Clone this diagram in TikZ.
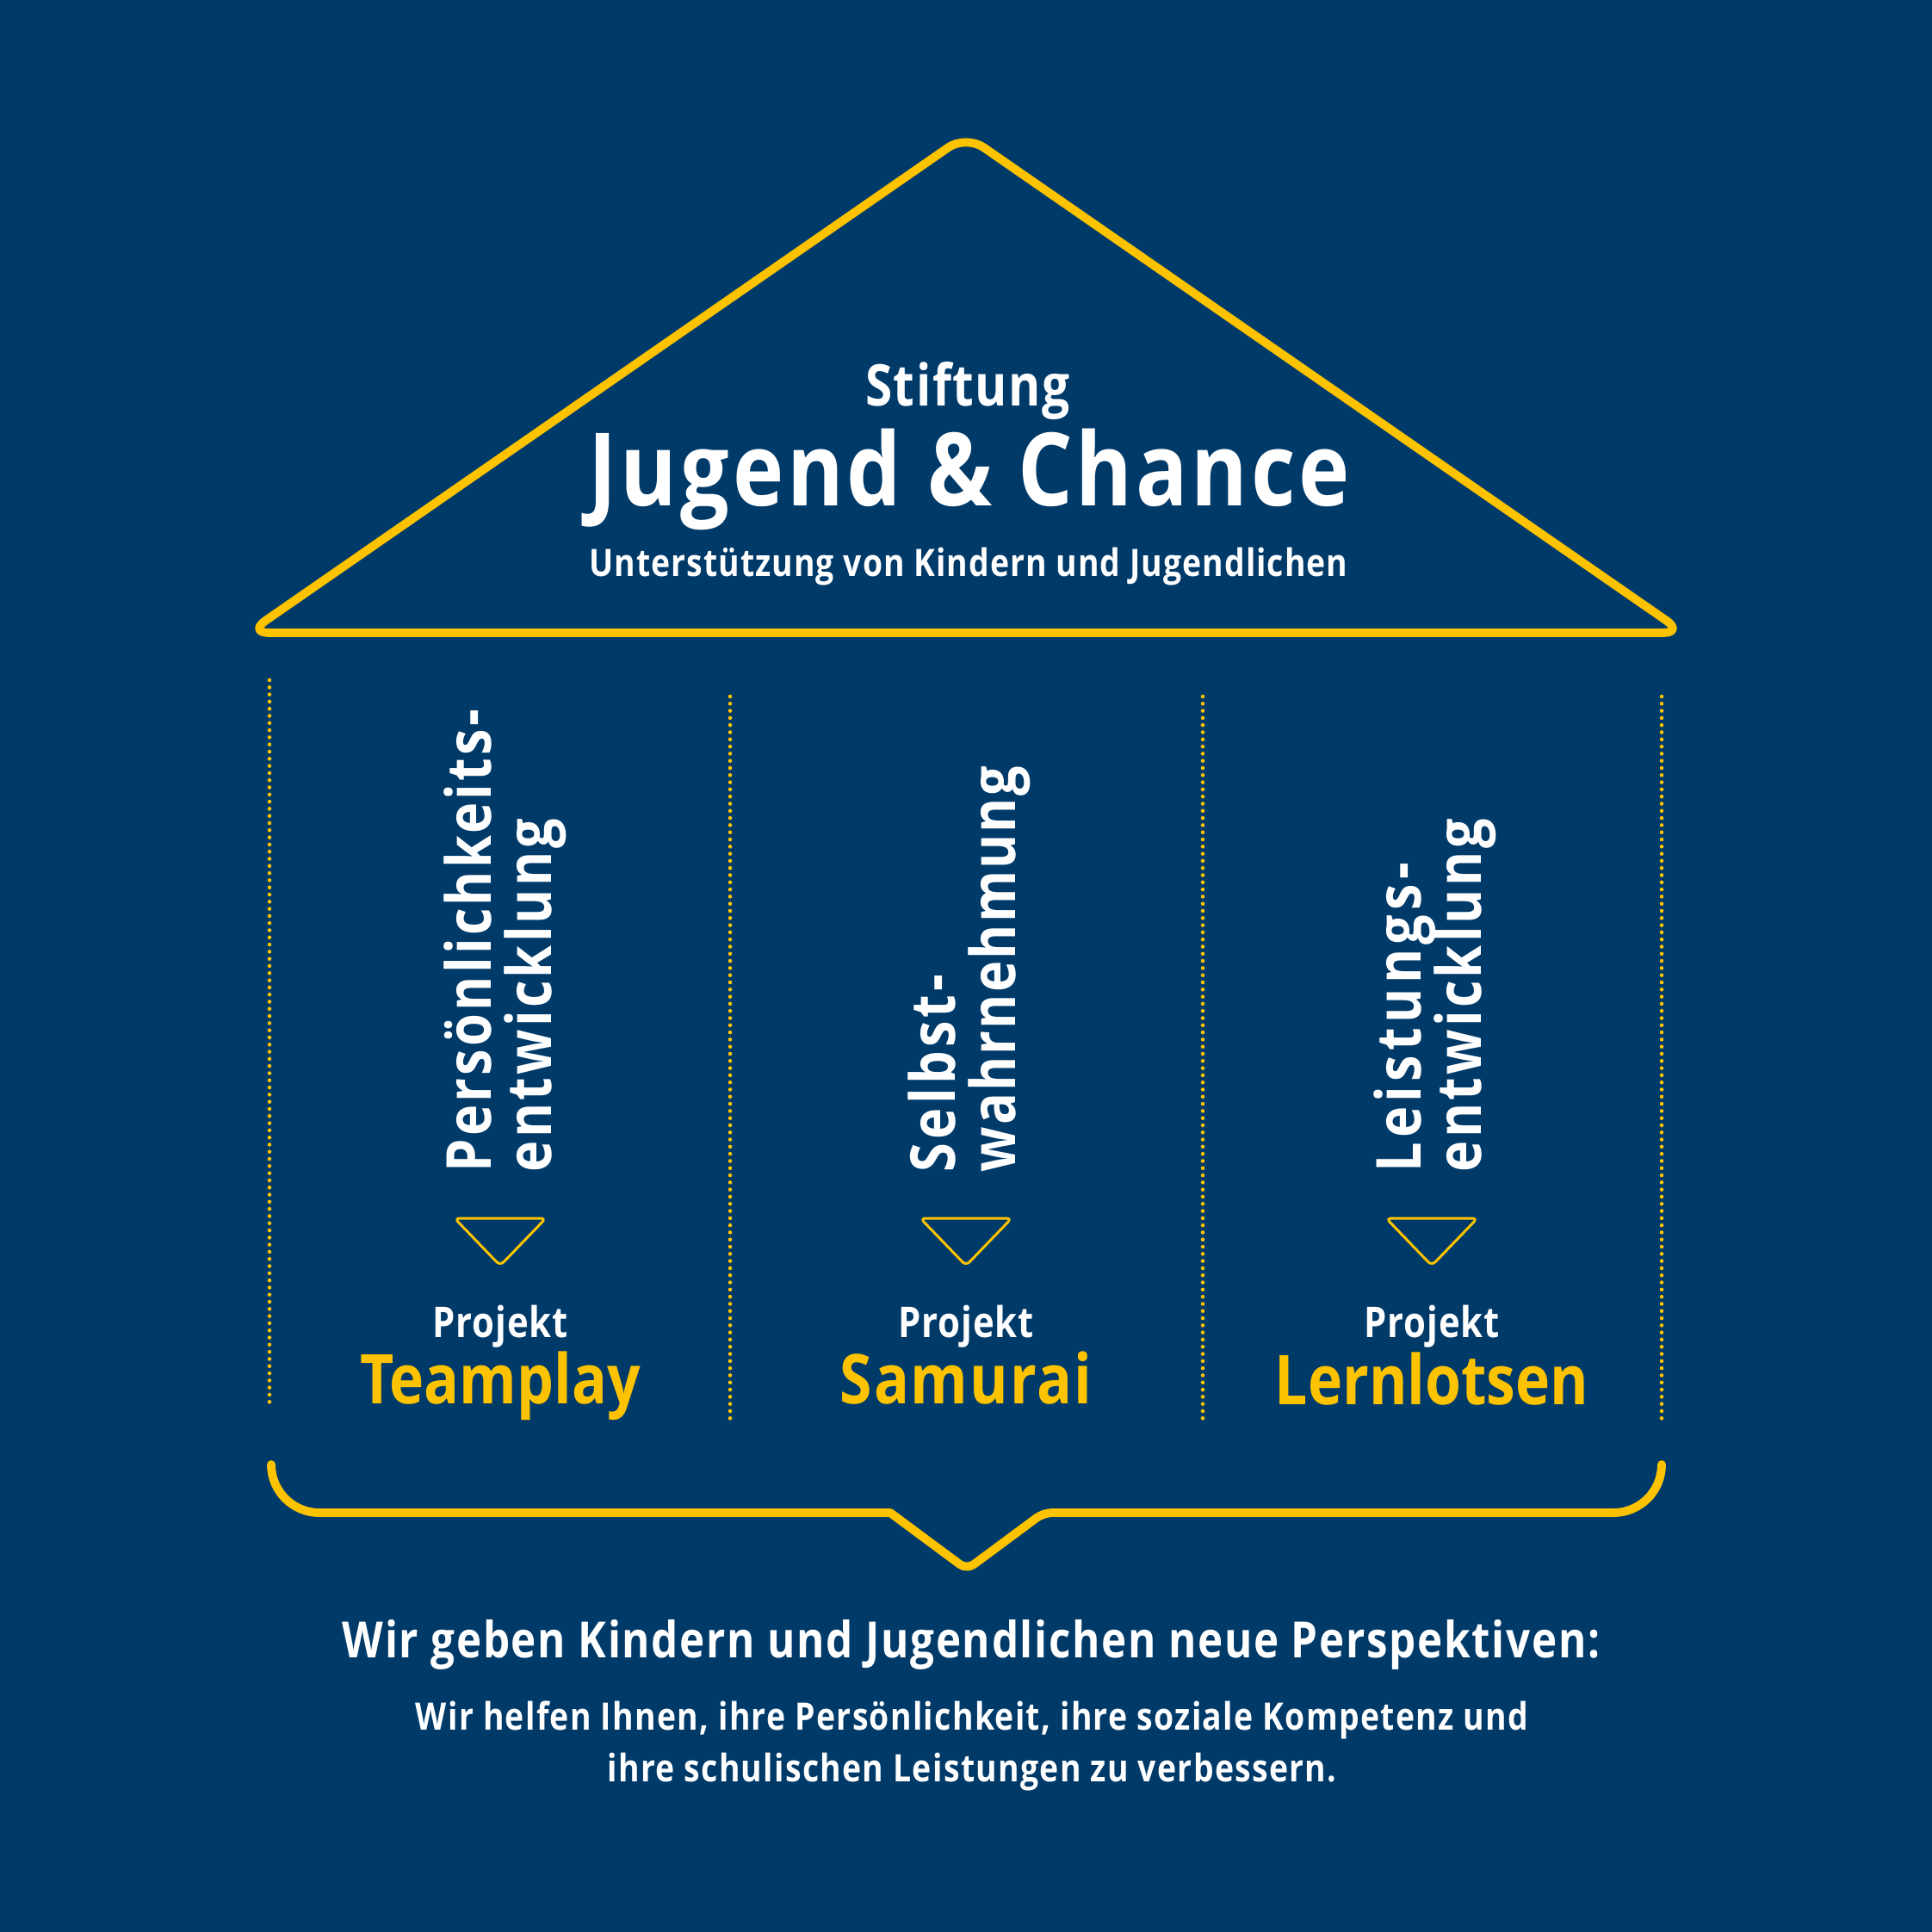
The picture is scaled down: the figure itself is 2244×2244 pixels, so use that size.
\documentclass[tikz,border=0pt]{standalone}
\usepackage{fontspec}
\usepackage{xcolor}
\setmainfont{Open Sans}[FakeStretch=0.85]
\usetikzlibrary{calc}
\definecolor{housecolor}{HTML}{003A69}
\definecolor{linecolor}{HTML}{FDC300}
\newcommand{\sizefont}[2]{\fontsize{#1}{#1}\selectfont\bfseries\addfontfeature{LetterSpace=#2}}
\tikzset{
  roofline/.style={color=linecolor,line width=2.8pt,line cap=round,line join=round},
  dotline/.style={color=linecolor,line width=1.3pt,line cap=round,dash pattern=on 0pt off 2.36pt},
  arrowline/.style={color=linecolor,line width=0.85pt,rounded corners=0.06cm},
  sidetext/.style={text=white,font=\sizefont{20.5}{#1},inner sep=0pt,rotate=90,anchor=base west},
  sidetext/.default=4.5,
  projecttext/.style={text=white,font=\sizefont{14}{2},inner sep=0pt,anchor=base},
  nametext/.style={text=linecolor,font=\sizefont{22.7}{#1},inner sep=0pt,anchor=base},
  nametext/.default=0,
  helptext/.style={text=white,font=\sizefont{12.5}{3},inner sep=0pt,anchor=base},
}
\begin{document}
\begin{tikzpicture}[x=0.01cm,y=-0.01cm]
   \fill [housecolor] (0,0) rectangle (2244,2244);
   \useasboundingbox (0,0) rectangle (2244,2244);
%% roof
   \draw[roofline,rounded corners=0.25cm] (1122,157) -- (288,735) -- (1956,735) -- cycle;
   \node[text=white,font=\sizefont{19}{2.4},inner sep=0pt,anchor=base] (stiftung) at (1124,471) {Stiftung};
   \node[text=white,font=\sizefont{33.5}{3.3},inner sep=0pt,anchor=base] (chance) at (1126,587) {Jugend \& Chance};
   \node[text=white,font=\sizefont{12.5}{2.4},inner sep=0pt,anchor=base] (support) at (1125,669) {Unterstützung von Kindern und Jugendlichen};
%% columns
   \draw[dotline] (313,790) -- (313,1630);
   \foreach \x in {848,1397,1930}
       \draw[dotline] (\x,809) -- (\x,1648);
   \foreach \x/\xname in {581/a,1122/b,1663/c}
   {
       \draw[arrowline] (\x-53,1415) -- (\x+53,1415) -- (\x,1470) -- cycle;
       \node[projecttext] (project\xname) at (\x,1553) {Projekt};
   }
   \node[sidetext] (persona) at (570,1362) {Persönlichkeits-};
   \node[sidetext] (personb) at (640,1362) {entwicklung};
   \node[sidetext=5.9] (selfa) at (1109,1362) {Selbst-};
   \node[sidetext=3] (selfb) at (1179,1362) {wahrnehmung};
   \node[sidetext=7.3] (leisturea) at (1650,1362) {Leistungs-};
   \node[sidetext] (leistureb) at (1720,1362) {entwicklung};
   \node[nametext] (teamplay) at (581,1630) {Teamplay};
   \node[nametext=2.5] (samurai) at (1122,1630) {Samurai};
   \node[nametext] (lernlotsen) at (1663,1631) {Lernlotsen};
%% bracket
   \draw[roofline] (315,1701) arc (180:90:56) -- (1034,1757)
       [rounded corners=0.1cm] -- (1123,1823) -- (1212,1757) [sharp corners] -- (1874,1757) arc (90:0:56);
   \node[text=white,font=\sizefont{16.5}{2.9},inner sep=0pt,anchor=base] (perspective) at (1128,1925) {Wir geben Kindern und Jugendlichen neue Perspektiven:};
   \node[helptext] (helpa) at (1129,2009) {Wir helfen Ihnen, ihre Persönlichkeit, ihre soziale Kompetenz und};
   \node[helptext] (helpb) at (1129,2069) {ihre schulischen Leistungen zu verbessern.};
\end{tikzpicture}
\end{document}
